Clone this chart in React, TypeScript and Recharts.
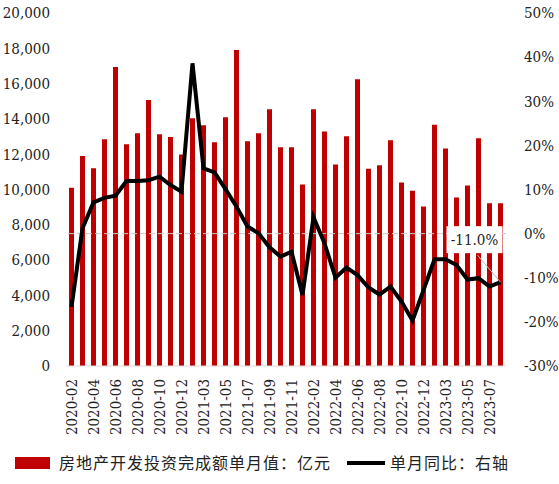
import {
  ComposedChart,
  Bar,
  Line,
  XAxis,
  YAxis,
  ReferenceLine,
  Legend,
} from "recharts"

const months = [
  "2020-02", "2020-03", "2020-04", "2020-05", "2020-06", "2020-07", "2020-08", "2020-09", "2020-10", "2020-11", "2020-12",
  "2021-02", "2021-03", "2021-04", "2021-05", "2021-06", "2021-07", "2021-08", "2021-09", "2021-10", "2021-11", "2021-12",
  "2022-02", "2022-03", "2022-04", "2022-05", "2022-06", "2022-07", "2022-08", "2022-09", "2022-10", "2022-11", "2022-12",
  "2023-02", "2023-03", "2023-04", "2023-05", "2023-06", "2023-07", "2023-08",
]

// 房地产开发投资完成额单月值（亿元）
const investment = [
  10100, 11900, 11200, 12840, 16940, 12560, 13180, 15070, 13130, 12970, 11990,
  14030, 13640, 12670, 14090, 17900, 12730, 13180, 14540, 12390, 12390, 10290,
  14540, 13290, 11420, 13010, 16240, 11180, 11370, 12790, 10390, 9930, 9030,
  13670, 12330, 9540, 10220, 12900, 9220, 9220,
]

// 单月同比（%）
const yoy = [
  -16.6, 1.2, 7.1, 8.1, 8.6, 11.9, 11.9, 12.1, 12.9, 11.0, 9.5,
  38.6, 14.8, 13.9, 10.1, 6.1, 1.6, 0.1, -3.1, -5.2, -4.1, -13.9,
  3.7, -2.2, -10.0, -7.7, -9.4, -12.2, -13.8, -12.0, -15.4, -19.7, -12.8,
  -5.8, -5.8, -7.1, -10.4, -10.1, -12.0, -11.0,
]

const leftTicks = [0, 2000, 4000, 6000, 8000, 10000, 12000, 14000, 16000, 18000, 20000]
const rightTicks = [-30, -20, -10, 0, 10, 20, 30, 40, 50]

const data = months.map((m, i) => ({ month: m, inv: investment[i], yoy: yoy[i] }))

const RED = "#C00000"
const SERIF = "'DejaVu Serif Condensed', 'DejaVu Serif', serif"
const CJK = "'DejaVu Serif Condensed', 'Noto Sans CJK SC'"

function MonthTick(props: any) {
  const { x, y, payload } = props
  return (
    <g transform={`translate(${x},${y + 5})`}>
      <text
        transform="rotate(-90)"
        textAnchor="end"
        dy="0.35em"
        fontSize={15}
        fontFamily={SERIF}
        fill="#222"
      >
        {payload.value}
      </text>
    </g>
  )
}

function LastLabel(props: any) {
  const { x, y, index } = props
  if (index !== yoy.length - 1) return null
  return (
    <g>
      <line x1={x - 23} y1={y - 27} x2={x} y2={y} stroke="#bbb" strokeWidth={1} />
      <rect x={x - 54} y={y - 56} width={56} height={27} fill="#fff" />
      <text x={x - 26} y={y - 37} textAnchor="middle" fontSize={15} fontFamily={SERIF} fill="#222">
        {yoy[index].toFixed(1)}%
      </text>
    </g>
  )
}

function LegendBox() {
  return (
    <svg width={559} height={38} style={{ display: "block" }}>
      <rect x={15} y={11} width={35} height={12} fill={RED} />
      <text x={59} y={23} fontSize={16} letterSpacing={1} fontFamily={CJK} fill="#222">
        房地产开发投资完成额单月值：亿元
      </text>
      <line x1={347} y1={17} x2={385} y2={17} stroke="#000" strokeWidth={4} />
      <text x={390} y={23} fontSize={16} letterSpacing={1} fontFamily={CJK} fill="#222">
        单月同比：右轴
      </text>
    </svg>
  )
}

export default function App() {
  return (
    <div style={{ position: "absolute", left: 0, top: 0, background: "#fff" }}>
      <ComposedChart
        width={559}
        height={484}
        data={data}
        margin={{ top: 13, right: 0, bottom: 0, left: 0 }}
        barCategoryGap={0}
      >
        <XAxis
          dataKey="month"
          interval={1}
          tick={<MonthTick />}
          tickLine={false}
          axisLine={{ stroke: "#d9d9d9" }}
          height={80}
        />
        <YAxis
          yAxisId="left"
          domain={[0, 20000]}
          ticks={leftTicks}
          tickFormatter={(v: number) => v.toLocaleString("en-US")}
          axisLine={false}
          tickLine={false}
          width={66}
          tickMargin={10}
          tick={{ fontSize: 15, fill: "#222", fontFamily: SERIF }}
        />
        <YAxis
          yAxisId="right"
          orientation="right"
          domain={[-30, 50]}
          ticks={rightTicks}
          tickFormatter={(v: number) => `${v}%`}
          axisLine={false}
          tickLine={false}
          width={53}
          tickMargin={12}
          tick={{ fontSize: 15, fill: "#222", textAnchor: "start", fontFamily: SERIF }}
        />
        <Bar yAxisId="left" dataKey="inv" fill={RED} barSize={5} isAnimationActive={false} />
        <ReferenceLine yAxisId="right" y={0} stroke="#c8c8c8" strokeDasharray="6 3" />
        <Line
          yAxisId="right"
          dataKey="yoy"
          type="linear"
          stroke="#000"
          strokeWidth={4}
          dot={false}
          isAnimationActive={false}
          label={<LastLabel />}
        />
        <Legend verticalAlign="bottom" content={() => <LegendBox />} />
      </ComposedChart>
    </div>
  )
}
